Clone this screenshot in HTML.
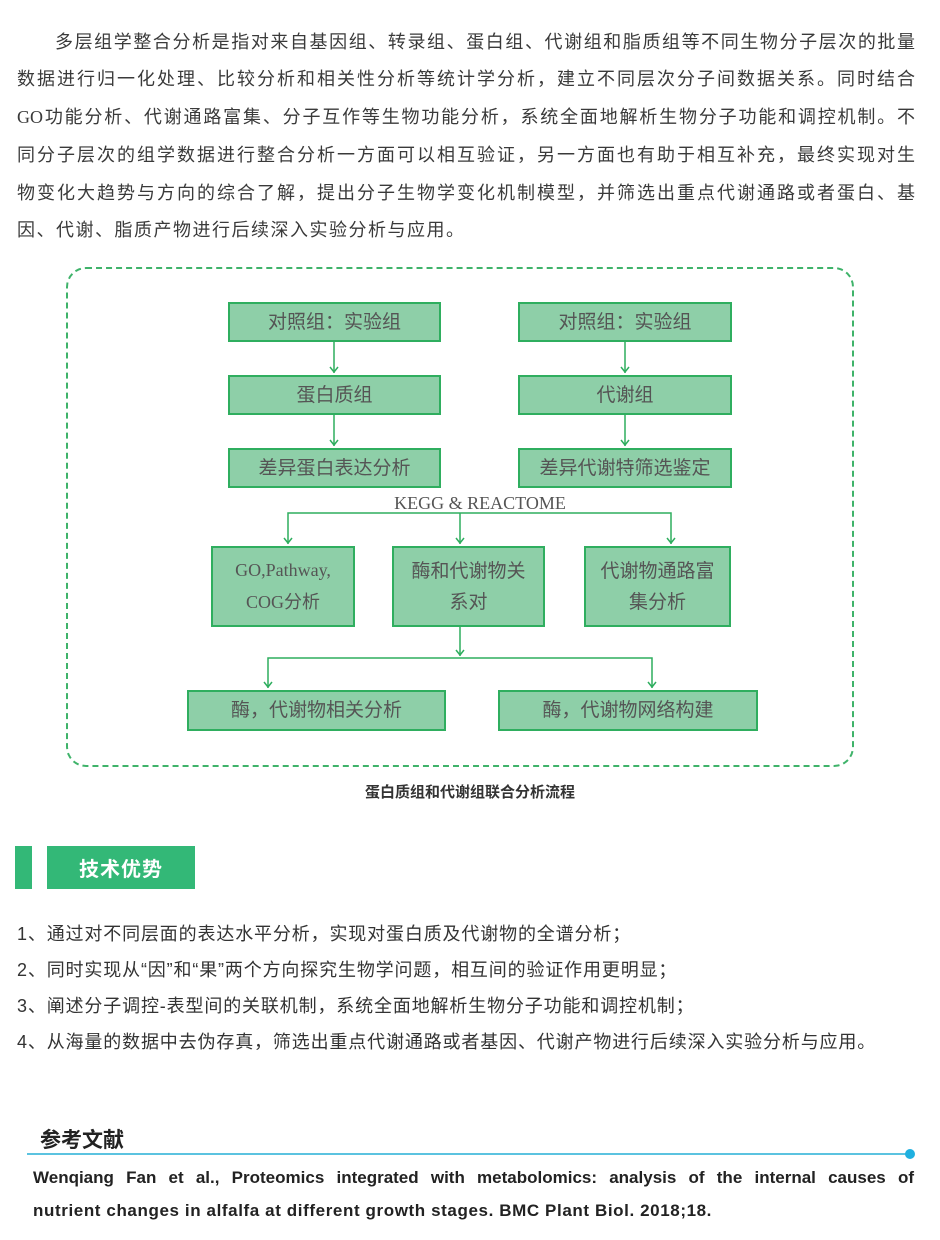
<!DOCTYPE html>
<html><head><meta charset="utf-8">
<style>
*{margin:0;padding:0;box-sizing:border-box}
body{width:940px;height:1240px;background:#fff;position:relative;font-family:"Liberation Sans","Noto Sans CJK SC",sans-serif;color:#333;overflow:hidden}
.p{position:absolute;left:17px;width:898px;font-size:18px;line-height:24px;text-align:justify;text-align-last:justify;white-space:nowrap;color:#3a3a3a}
.b{position:absolute;background:#8ecfa8;border:2px solid #2fae5f;color:#555;font-size:19px;display:flex;align-items:center;justify-content:center;text-align:center;line-height:31px}
.li{position:absolute;left:17px;font-size:18px;color:#333;letter-spacing:0.85px}
</style></head><body>
<div class="p" style="top:30px;left:55px;width:860px">多层组学整合分析是指对来自基因组、转录组、蛋白组、代谢组和脂质组等不同生物分子层次的批量</div>
<div class="p" style="top:67px">数据进行归一化处理、比较分析和相关性分析等统计学分析，建立不同层次分子间数据关系。同时结合</div>
<div class="p" style="top:105px"><span style="font-family:'Liberation Serif'">GO</span>功能分析、代谢通路富集、分子互作等生物功能分析，系统全面地解析生物分子功能和调控机制。不</div>
<div class="p" style="top:143px">同分子层次的组学数据进行整合分析一方面可以相互验证，另一方面也有助于相互补充，最终实现对生</div>
<div class="p" style="top:181px">物变化大趋势与方向的综合了解，提出分子生物学变化机制模型，并筛选出重点代谢通路或者蛋白、基</div>
<div class="p" style="top:218px;text-align-last:left;width:auto;letter-spacing:1.5px">因、代谢、脂质产物进行后续深入实验分析与应用。</div>

<div style="position:absolute;left:66px;top:267px;width:788px;height:500px;border:2px dashed #3fb36a;border-radius:20px"></div>

<svg style="position:absolute;left:0;top:0" width="940" height="800">
<g stroke="#2fae5f" stroke-width="1.5" fill="none">
<path d="M334 341V373M334 414V446M625 341V373M625 414V446"/>
<path d="M288 544V513H671V544M460 513V544"/>
<path d="M460 626V656M268 688V658H652V688"/>
<path d="M330 367l4 5 4-5M330 440l4 5 4-5M621 367l4 5 4-5M621 440l4 5 4-5M284 538l4 5 4-5M456 538l4 5 4-5M667 538l4 5 4-5M456 650l4 5 4-5M264 682l4 5 4-5M648 682l4 5 4-5"/>
</g>
<text x="480" y="509" text-anchor="middle" font-family="Liberation Serif" font-size="18" fill="#555">KEGG &amp; REACTOME</text>
</svg>

<div class="b" style="left:228px;top:302px;width:213px;height:40px">对照组：实验组</div>
<div class="b" style="left:228px;top:375px;width:213px;height:40px">蛋白质组</div>
<div class="b" style="left:228px;top:448px;width:213px;height:40px">差异蛋白表达分析</div>
<div class="b" style="left:518px;top:302px;width:214px;height:40px">对照组：实验组</div>
<div class="b" style="left:518px;top:375px;width:214px;height:40px">代谢组</div>
<div class="b" style="left:518px;top:448px;width:214px;height:40px">差异代谢特筛选鉴定</div>
<div class="b" style="left:211px;top:546px;width:144px;height:81px;font-size:18px"><span style="font-family:'Liberation Serif','Noto Sans CJK SC',sans-serif">GO,Pathway,<br>COG<span style="font-family:'Noto Sans CJK SC',sans-serif">分析</span></span></div>
<div class="b" style="left:392px;top:546px;width:153px;height:81px">酶和代谢物关<br>系对</div>
<div class="b" style="left:584px;top:546px;width:147px;height:81px">代谢物通路富<br>集分析</div>
<div class="b" style="left:187px;top:690px;width:259px;height:41px">酶，代谢物相关分析</div>
<div class="b" style="left:498px;top:690px;width:260px;height:41px">酶，代谢物网络构建</div>

<div style="position:absolute;left:0;width:940px;top:781px;text-align:center;font-size:15px;font-weight:bold;color:#333">蛋白质组和代谢组联合分析流程</div>

<div style="position:absolute;left:15px;top:846px;width:17px;height:43px;background:#33b877"></div>
<div style="position:absolute;left:47px;top:846px;width:148px;height:43px;background:#33b877;color:#fff;font-size:20px;font-weight:bold;display:flex;align-items:center;justify-content:center;letter-spacing:1px">技术优势</div>

<div class="li" style="top:920px">1、通过对不同层面的表达水平分析，实现对蛋白质及代谢物的全谱分析；</div>
<div class="li" style="top:956px">2、同时实现从“因”和“果”两个方向探究生物学问题，相互间的验证作用更明显；</div>
<div class="li" style="top:992px">3、阐述分子调控-表型间的关联机制，系统全面地解析生物分子功能和调控机制；</div>
<div class="li" style="top:1028px">4、从海量的数据中去伪存真，筛选出重点代谢通路或者基因、代谢产物进行后续深入实验分析与应用。</div>

<div style="position:absolute;left:40px;top:1124px;font-size:21px;font-weight:bold;color:#222">参考文献</div>
<div style="position:absolute;left:27px;top:1153px;width:883px;height:2px;background:#5bc3e0"></div>
<div style="position:absolute;left:905px;top:1149px;width:10px;height:10px;border-radius:50%;background:#1fb0e0"></div>
<div style="position:absolute;left:33px;top:1168px;width:881px;font-size:17px;font-weight:bold;color:#222;text-align:justify;text-align-last:justify;white-space:nowrap">Wenqiang Fan et al., Proteomics integrated with metabolomics: analysis of the internal causes of</div>
<div style="position:absolute;left:33px;top:1201px;font-size:17px;font-weight:bold;color:#222;letter-spacing:0.6px">nutrient changes in alfalfa at different growth stages. BMC Plant Biol. 2018;18.</div>
</body></html>
